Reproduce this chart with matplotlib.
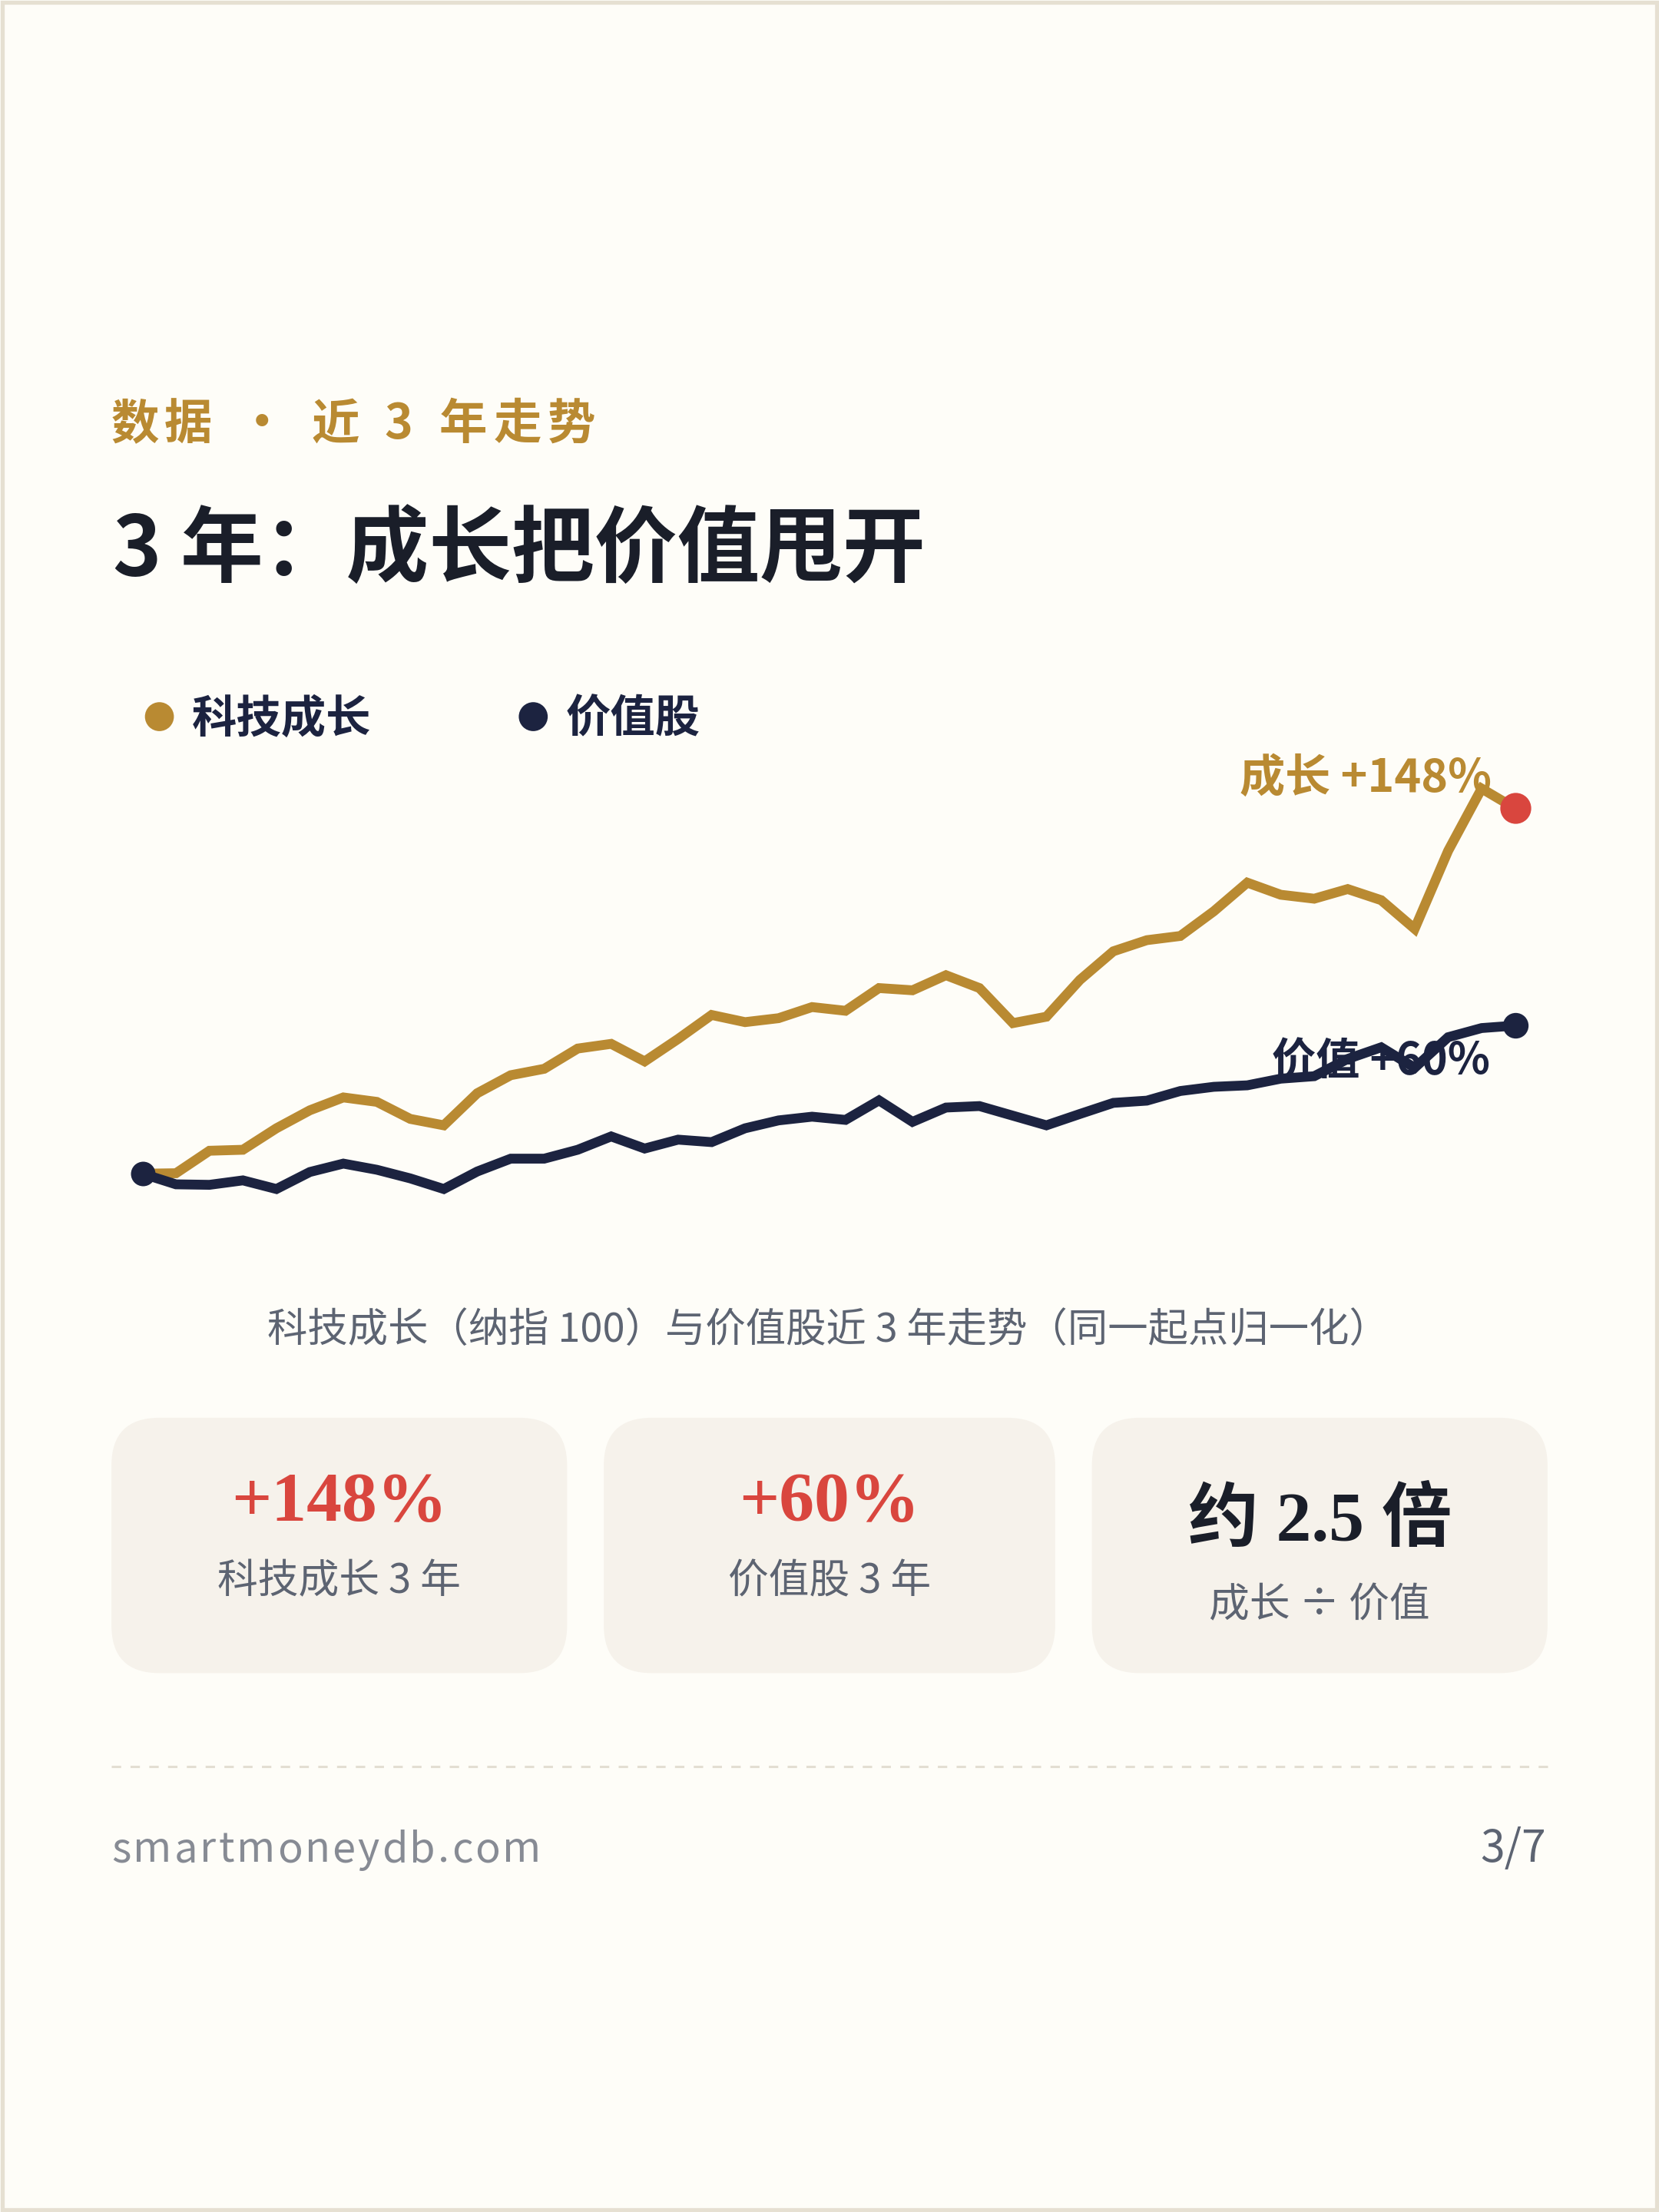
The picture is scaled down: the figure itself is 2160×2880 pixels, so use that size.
import numpy as np
import matplotlib
matplotlib.use("Agg")
import matplotlib.pyplot as plt
from matplotlib.patches import FancyBboxPatch, Circle, Rectangle

plt.rcParams['font.family'] = ['Noto Sans CJK SC', 'DejaVu Sans']

# Data (normalised % change, same start point)
growth = [0, 0.2, 9.3, 9.7, 18.4, 25.7, 30.9, 29.1, 22.2, 19.6, 32.6, 39.9, 42.5, 50.7,
          52.6, 45.5, 54.6, 64.3, 61.4, 63.0, 67.5, 66.0, 75.2, 74.3, 80.4, 75.2, 61.0,
          63.6, 78.5, 90.1, 94.6, 96.3, 106.3, 117.9, 113.0, 111.4, 115.3, 110.8, 99.2,
          130.8, 156.0, 148.0]
value = [0, -4.3, -4.5, -2.7, -6.2, 0.7, 4.1, 1.6, -1.9, -6.2, 0.9, 6.1, 6.1, 9.7,
         15.1, 10.2, 13.8, 12.8, 18.4, 21.6, 23.1, 21.8, 29.7, 21.0, 26.8, 27.4, 23.5,
         19.6, 24.2, 28.7, 29.6, 33.5, 35.2, 35.8, 38.5, 39.5, 46.5, 51.2, 42.9,
         55.3, 59.0, 60.0]
months = np.arange(len(growth))

kicker_chars = ['数', '据', '·', '近', '3', '年', '走', '势']
title = '3 年：成长把价值甩开'
legend_labels = ['科技成长', '价值股']
growth_label = '成长 +148%'
value_label = '价值 +60%'
caption = '科技成长（纳指 100）与价值股近 3 年走势（同一起点归一化）'
card_main = ['+148%', '+60%', '约 2.5 倍']
card_sub = ['科技成长 3 年', '价值股 3 年', '成长 ÷ 价值']
site = 'smartmoneydb.com'
page = '3/7'

# colours
BG = '#FEFDF8'
BORDER = '#E6E0D2'
GOLD = '#B98A32'
NAVY = '#1C2340'
RED = '#D9463E'
INK = '#1A1E29'
GRAY = '#5D6472'
LIGHT = '#878B94'
CARD = '#F6F2EB'
DASH = '#E3DED2'

W, H = 1176, 1568
PX = 2160 / W  # output pixels per layout unit

fig = plt.figure(figsize=(10.8, 14.4), dpi=200, facecolor=BG)
bg = fig.add_axes([0, 0, 1, 1])
bg.set_xlim(0, W)
bg.set_ylim(H, 0)
bg.axis('off')

bg.add_patch(Rectangle((1.4, 1.4), W - 2.8, H - 2.8, fill=False, edgecolor=BORDER, lw=1.9))

# kicker
kicker_x = [95.5, 133.3, 185.8, 237.8, 282.5, 328.5, 366.7, 405.2]
for ch, x in zip(kicker_chars, kicker_x):
    bg.text(x, 301, ch, ha='center', va='center', fontsize=22.5, weight='bold', color=GOLD)

# title
bg.text(80, 391, title, ha='left', va='center', fontsize=38.8, weight='bold', color=INK)

# legend
for (lx, col), lab in zip([(113, GOLD), (378, NAVY)], legend_labels):
    bg.add_patch(Circle((lx, 508), 9.5, color=col))
    bg.text(lx + 23, 510, lab, ha='left', va='center', fontsize=21, weight='bold', color=NAVY)

# chart
ax = fig.add_axes([101 / W, 1 - 832 / H, 973 / W, 259 / H])
ax.set_xlim(0, len(growth) - 1)
ax.set_ylim(0, 148)
ax.axis('off')
ax.patch.set_alpha(0)

ax.plot(months, growth, color=GOLD, lw=4.6, solid_joinstyle='miter', clip_on=False, zorder=2)
ax.plot(months, value, color=NAVY, lw=4.6, solid_joinstyle='miter', clip_on=False, zorder=3)
ax.plot(months[0], value[0], 'o', color=NAVY, ms=10.5, clip_on=False, zorder=4)
ax.plot(months[-1], growth[-1], 'o', color=RED, ms=13.5, clip_on=False, zorder=4)
ax.plot(months[-1], value[-1], 'o', color=NAVY, ms=11, clip_on=False, zorder=4)

ax.annotate(growth_label, xy=(months[-1], growth[-1]), xytext=(-11.2, 13.9),
            textcoords='offset points', ha='right', va='center', fontsize=21.3,
            weight='bold', color=GOLD, zorder=5, annotation_clip=False)
ax.annotate(value_label, xy=(months[-1], value[-1]), xytext=(-11.9, -17.0),
            textcoords='offset points', ha='right', va='center', fontsize=20.6,
            weight='bold', color=NAVY, zorder=5, annotation_clip=False)

# caption
bg.text(587, 943, caption, ha='center', va='center', fontsize=18.85, color=GRAY)

# cards
cards = [(79, 402), (428, 748), (774, 1097)]
main_y = [1066, 1066, 1079]
sub_y = [1121, 1121, 1138]
main_col = [RED, RED, INK]
for i, (x0, x1) in enumerate(cards):
    bg.add_patch(FancyBboxPatch((x0, 1005), x1 - x0, 181,
                                boxstyle='round,pad=0,rounding_size=34',
                                facecolor=CARD, edgecolor='none'))
    cx = (x0 + x1) / 2
    bg.text(cx, main_y[i], card_main[i], ha='center', va='center', fontsize=33,
            weight='bold', color=main_col[i],
            family=['Liberation Serif', 'Noto Sans CJK SC'])
    bg.text(cx, sub_y[i], card_sub[i], ha='center', va='center', fontsize=19, color=GRAY)

# dashed rule
bg.plot([79, 1097], [1252, 1252], color=DASH, lw=1.1, ls=(0, (4, 4)))

# footer with letter spacing
renderer = fig.canvas.get_renderer()
def spaced(x, y, s, gap, **kw):
    for i, ch in enumerate(s):
        off = 0
        if i > 0:
            t = bg.text(0, 0, s[:i], **kw)
            off = t.get_window_extent(renderer).width / PX
            t.remove()
        bg.text(x + off + i * gap, y, ch, ha='left', va='baseline', **kw)

spaced(79, 1320, site, 1.6, fontsize=19.5, color=LIGHT)
bg.text(1096, 1320, page, ha='right', va='baseline', fontsize=20.5, color=GRAY)

fig.savefig('out.png', dpi=200, facecolor=BG)
